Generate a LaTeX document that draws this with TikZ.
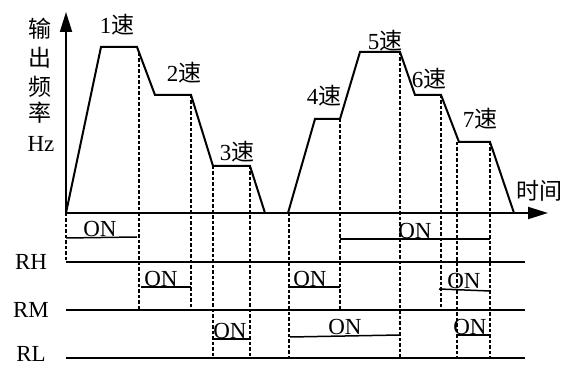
\documentclass[tikz,border=0pt]{standalone}
\usepackage{fontspec}
\setmainfont{Liberation Serif}
\newfontfamily\cjk{Noto Sans CJK SC}
\usetikzlibrary{arrows.meta}

\begin{document}
\begin{tikzpicture}[x=1pt, y=-1pt,
  axis/.style={line width=2pt, -{Triangle[length=20pt, width=12pt]}},
  curve/.style={line width=2pt, line join=miter},
  guide/.style={line width=1.4pt, dash pattern=on 3.5pt off 2pt},
  sigline/.style={line width=2pt},
  onbar/.style={line width=1.5pt},
  txt/.style={font=\fontsize{23}{23}\selectfont, inner sep=0pt},
  spd/.style={txt},
  onlbl/.style={txt, anchor=south, yshift=0.5pt}
]
\useasboundingbox (0,0) rectangle (571,366);

% axes
\coordinate (o) at (66,213);
\draw[axis] (o) -- (66,12);
\draw[axis] (o) -- (548,213);
\node[txt] (y1) at (40,29) {\cjk 输};
\node[txt] (y2) at (40,58) {\cjk 出};
\node[txt] (y3) at (40,87) {\cjk 频};
\node[txt] (y4) at (40,113) {\cjk 率};
\node[txt] (y5) at (41,144) {Hz};
\node[txt] (tlbl) at (539,191) {\cjk 时间};

% output frequency
\draw[curve] (66,213) -- (101,47) -- (137,47) -- (155,95) -- (191,95)
  -- (213,166) -- (250,166) -- (265,213);
\draw[curve] (288,213) -- (315,119) -- (340,119) -- (360,52) -- (400,52)
  -- (415,95) -- (441,95) -- (459,142) -- (490,142) -- (514,213);

\node[spd] (s1) at (117,25) {1{\cjk 速}};
\node[spd] (s2) at (184,73) {2{\cjk 速}};
\node[spd] (s3) at (237,152) {3{\cjk 速}};
\node[spd] (s4) at (324,96) {4{\cjk 速}};
\node[spd] (s5) at (385,41) {5{\cjk 速}};
\node[spd] (s6) at (429,79) {6{\cjk 速}};
\node[spd] (s7) at (480,119) {7{\cjk 速}};

% switch lines
\node[txt] (rh) at (31,262) {RH};
\node[txt] (rm) at (31,310) {RM};
\node[txt] (rl) at (31,354) {RL};
\foreach \y in {262,310,358}
  \draw[sigline] (66,\y) -- (525,\y);

% guide lines
\foreach \x/\ya/\yb in {66/213/262, 139/53/310, 191/95/310, 213/166/358,
    250/166/358, 289/213/358, 340/119/310, 400/52/358, 441/95/310,
    457/142/358, 490/142/358}
  \draw[guide] (\x,\ya) -- (\x,\yb);

% ON intervals
\draw[onbar] (66,238) -- (137,237);
\node[onlbl] (on1) at (100,237) {ON};
\draw[onbar] (340,239) -- (490,239);
\node[onlbl] (on2) at (415,239) {ON};
\draw[onbar] (141,287) -- (191,287);
\node[onlbl] (on3) at (161,287) {ON};
\draw[onbar] (290,287) -- (340,287);
\node[onlbl] (on4) at (310,287) {ON};
\draw[onbar] (439,289) -- (490,291);
\node[onlbl] (on5) at (464,289) {ON};
\draw[onbar] (213,339) -- (250,339);
\node[onlbl] (on6) at (230,339) {ON};
\draw[onbar] (290,337) -- (400,335);
\node[onlbl] (on7) at (345,335) {ON};
\draw[onbar] (457,335) -- (490,335);
\node[onlbl] (on8) at (470,335) {ON};
\end{tikzpicture}
\end{document}
